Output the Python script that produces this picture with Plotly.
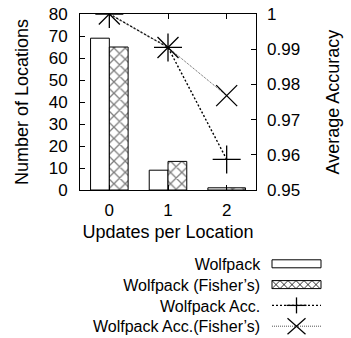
import plotly.graph_objects as go

updates = [0, 1, 2]
wolfpack = [69, 9, 1]
wolfpack_fisher = [65, 13, 1]
acc = [1.0, 0.9905, 0.9587]
acc_fisher = [1.0, 0.9905, 0.9768]
legend_names = ["Wolfpack", "Wolfpack (Fisher\u2019s)", "Wolfpack Acc.", "Wolfpack Acc.(Fisher\u2019s)"]

FONT = "Liberation Sans, Arial, sans-serif"
FS = 17
LFS = 16  # legend font size

# plot area in pixels
L, R, T, B = 80, 256, 14, 190
W, H = 351, 338


def px(xp):
    return (xp - L) / (R - L)


def py(yp):
    return (B - yp) / (B - T)


fig = go.Figure()
fig.add_trace(go.Bar(x=updates, y=wolfpack, name=legend_names[0], showlegend=False,
                     marker=dict(color="white", line=dict(color="black", width=1)),
                     offsetgroup="a"))
fig.add_trace(go.Bar(x=updates, y=wolfpack_fisher, name=legend_names[1], showlegend=False,
                     marker=dict(color="white", line=dict(color="black", width=1),
                                 pattern=dict(shape="x", fgcolor="black", bgcolor="white",
                                              size=8, solidity=0.3)),
                     offsetgroup="b"))
fig.add_trace(go.Scatter(x=updates, y=acc, yaxis="y2", name=legend_names[2], showlegend=False,
                         mode="lines+markers",
                         line=dict(color="black", width=1.4, dash="2px,2px"),
                         marker=dict(symbol="cross-thin", size=20,
                                     line=dict(color="black", width=1.3))))
fig.add_trace(go.Scatter(x=updates, y=acc_fisher, yaxis="y2", name=legend_names[3], showlegend=False,
                         mode="lines+markers",
                         line=dict(color="#555555", width=1, dash="1px,1px"),
                         marker=dict(symbol="x-thin", size=21,
                                     line=dict(color="black", width=1.3))))

# ---- manual legend (text right-aligned, key to the right) ----
line_h = LFS * 1.3
center = 295.0
rows = [center + (i - 1.5) * line_h for i in range(4)]
kx0, kx1 = 272, 321
shapes = []
annotations = [dict(text="<br>".join(legend_names), xref="paper", yref="paper",
                    x=px(263), y=py(center), xanchor="right", yanchor="middle",
                    align="right", showarrow=False,
                    font=dict(family=FONT, size=LFS, color="black"))]

# key 1: empty box
shapes.append(dict(type="rect", xref="paper", yref="paper",
                   x0=px(kx0), x1=px(kx1), y0=py(rows[0] - 4), y1=py(rows[0] + 4),
                   line=dict(color="black", width=1), fillcolor="white"))
# key 2: crosshatched box
y0k, y1k = rows[1] - 4, rows[1] + 4
path = ""
step = 8
xs = kx0
while xs < kx1 - 1:
    xe = min(xs + step, kx1)
    path += f"M{px(xs)},{py(y0k)} L{px(xe)},{py(y1k)} M{px(xs)},{py(y1k)} L{px(xe)},{py(y0k)} "
    xs += step
shapes.append(dict(type="path", xref="paper", yref="paper", path=path,
                   line=dict(color="black", width=0.8)))
shapes.append(dict(type="rect", xref="paper", yref="paper",
                   x0=px(kx0), x1=px(kx1), y0=py(y0k), y1=py(y1k),
                   line=dict(color="black", width=1)))
# key 3: dotted line with plus
kc = (kx0 + kx1) / 2
shapes.append(dict(type="line", xref="paper", yref="paper",
                   x0=px(kx0), x1=px(kx1), y0=py(rows[2]), y1=py(rows[2]),
                   line=dict(color="black", width=1.4, dash="2px,2px")))
shapes.append(dict(type="line", xref="paper", yref="paper",
                   x0=px(kc - 10), x1=px(kc + 10), y0=py(rows[2]), y1=py(rows[2]),
                   line=dict(color="black", width=1.3)))
shapes.append(dict(type="line", xref="paper", yref="paper",
                   x0=px(kc), x1=px(kc), y0=py(rows[2] - 8), y1=py(rows[2] + 8),
                   line=dict(color="black", width=1.3)))
# key 4: fine dotted line with X
shapes.append(dict(type="line", xref="paper", yref="paper",
                   x0=px(kx0), x1=px(kx1), y0=py(rows[3]), y1=py(rows[3]),
                   line=dict(color="#555555", width=1, dash="1px,1px")))
shapes.append(dict(type="line", xref="paper", yref="paper",
                   x0=px(kc - 9), x1=px(kc + 9), y0=py(rows[3] - 8), y1=py(rows[3] + 8),
                   line=dict(color="black", width=1.3)))
shapes.append(dict(type="line", xref="paper", yref="paper",
                   x0=px(kc - 9), x1=px(kc + 9), y0=py(rows[3] + 8), y1=py(rows[3] - 8),
                   line=dict(color="black", width=1.3)))

fig.update_layout(
    width=W, height=H,
    margin=dict(l=L, r=W - R, t=T, b=H - B, autoexpand=False),
    paper_bgcolor="white", plot_bgcolor="white",
    font=dict(family=FONT, size=FS, color="black"),
    barmode="group", bargap=0.36, bargroupgap=0,
    showlegend=False,
    annotations=annotations,
    shapes=shapes,
    xaxis=dict(range=[-0.5, 2.5], tickvals=updates, ticktext=[str(u) for u in updates],
               ticks="inside", ticklen=5, tickcolor="black", ticklabelstandoff=5,
               showline=True, linecolor="black", linewidth=1, mirror="ticks",
               showgrid=False, zeroline=False,
               title=dict(text="Updates per Location", font=dict(size=18), standoff=5),
               tickfont=dict(size=FS)),
    yaxis=dict(range=[0, 80], tickvals=list(range(0, 81, 10)),
               ticks="inside", ticklen=5, tickcolor="black", ticklabelstandoff=8,
               showline=True, linecolor="black", linewidth=1, mirror=True,
               showgrid=False, zeroline=False,
               title=dict(text="Number of Locations", font=dict(size=18), standoff=15),
               tickfont=dict(size=FS)),
    yaxis2=dict(range=[0.95, 1.0], tickvals=[0.95, 0.96, 0.97, 0.98, 0.99, 1.0],
                ticktext=["0.95", "0.96", "0.97", "0.98", "0.99", "1"],
                overlaying="y", side="right", anchor="x",
                ticks="inside", ticklen=5, tickcolor="black", ticklabelstandoff=10,
                showline=False, showgrid=False, zeroline=False,
                title=dict(text="Average Accuracy", font=dict(size=18), standoff=27),
                tickfont=dict(size=FS)),
)

fig.write_html("out.html")
